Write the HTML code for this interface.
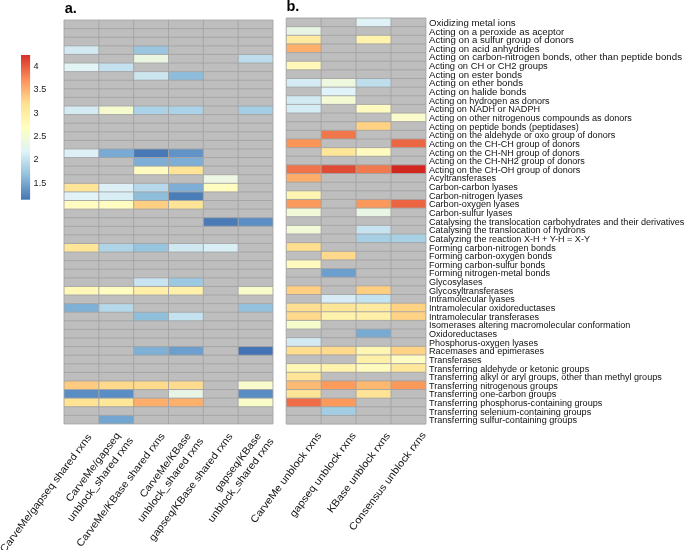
<!DOCTYPE html>
<html><head><meta charset="utf-8"><style>
html,body{margin:0;padding:0;background:#fff;}
svg{display:block;will-change:transform;font-family:"Liberation Sans",sans-serif;}
</style></head><body>
<svg width="685" height="550" viewBox="0 0 685 550">
<defs><linearGradient id="lg" x1="0" y1="1" x2="0" y2="0">
<stop offset="0" stop-color="#4575B4"/><stop offset="0.1667" stop-color="#91BFDB"/><stop offset="0.3333" stop-color="#E0F3F8"/><stop offset="0.5" stop-color="#FFFFBF"/><stop offset="0.6667" stop-color="#FEE090"/><stop offset="0.8333" stop-color="#FC8D59"/><stop offset="1" stop-color="#D73027"/>
</linearGradient></defs>
<rect width="685" height="550" fill="#fff"/>
<text x="64.8" y="12.5" font-weight="bold" font-size="14.5">a.</text>
<text x="286.4" y="11.2" font-weight="bold" font-size="14.5">b.</text>
<rect x="64.0" y="20.05" width="208.98" height="403.87" fill="#BEBEBE"/>
<rect x="64.00" y="45.83" width="34.83" height="8.59" fill="#D3EAF3"/>
<rect x="133.66" y="45.83" width="34.83" height="8.59" fill="#9CC5E0"/>
<rect x="133.66" y="54.42" width="34.83" height="8.59" fill="#EAF6E2"/>
<rect x="238.15" y="54.42" width="34.83" height="8.59" fill="#BDDDEC"/>
<rect x="64.00" y="63.02" width="34.83" height="8.59" fill="#E2F4F6"/>
<rect x="98.83" y="63.02" width="34.83" height="8.59" fill="#C3E1EE"/>
<rect x="133.66" y="71.61" width="34.83" height="8.59" fill="#CCE6F0"/>
<rect x="168.49" y="71.61" width="34.83" height="8.59" fill="#8DBDDA"/>
<rect x="64.00" y="105.98" width="34.83" height="8.59" fill="#D5EBF4"/>
<rect x="98.83" y="105.98" width="34.83" height="8.59" fill="#F5FBCF"/>
<rect x="133.66" y="105.98" width="34.83" height="8.59" fill="#ABD2E6"/>
<rect x="168.49" y="105.98" width="34.83" height="8.59" fill="#ABD2E6"/>
<rect x="238.15" y="105.98" width="34.83" height="8.59" fill="#A5CEE4"/>
<rect x="64.00" y="148.95" width="34.83" height="8.59" fill="#DDF0F6"/>
<rect x="98.83" y="148.95" width="34.83" height="8.59" fill="#78AAD4"/>
<rect x="133.66" y="148.95" width="34.83" height="8.59" fill="#4878B6"/>
<rect x="168.49" y="148.95" width="34.83" height="8.59" fill="#6193C7"/>
<rect x="133.66" y="157.54" width="34.83" height="8.59" fill="#7EAED5"/>
<rect x="168.49" y="157.54" width="34.83" height="8.59" fill="#7EAED5"/>
<rect x="133.66" y="166.13" width="34.83" height="8.59" fill="#FFFBC0"/>
<rect x="168.49" y="166.13" width="34.83" height="8.59" fill="#FEE497"/>
<rect x="203.32" y="174.72" width="34.83" height="8.59" fill="#EDF7E3"/>
<rect x="64.00" y="183.32" width="34.83" height="8.59" fill="#FEE496"/>
<rect x="98.83" y="183.32" width="34.83" height="8.59" fill="#DDF0F6"/>
<rect x="133.66" y="183.32" width="34.83" height="8.59" fill="#B6D8EA"/>
<rect x="168.49" y="183.32" width="34.83" height="8.59" fill="#7EAED5"/>
<rect x="203.32" y="183.32" width="34.83" height="8.59" fill="#FFFDC0"/>
<rect x="64.00" y="191.91" width="34.83" height="8.59" fill="#E2F3F7"/>
<rect x="98.83" y="191.91" width="34.83" height="8.59" fill="#D8EDF4"/>
<rect x="133.66" y="191.91" width="34.83" height="8.59" fill="#8EBEDA"/>
<rect x="168.49" y="191.91" width="34.83" height="8.59" fill="#4B7DB9"/>
<rect x="64.00" y="200.50" width="34.83" height="8.59" fill="#FFFBC1"/>
<rect x="98.83" y="200.50" width="34.83" height="8.59" fill="#FFFCC2"/>
<rect x="133.66" y="200.50" width="34.83" height="8.59" fill="#FECF82"/>
<rect x="168.49" y="200.50" width="34.83" height="8.59" fill="#FEE497"/>
<rect x="203.32" y="217.69" width="34.83" height="8.59" fill="#4A7BB7"/>
<rect x="238.15" y="217.69" width="34.83" height="8.59" fill="#5B8EC4"/>
<rect x="64.00" y="243.47" width="34.83" height="8.59" fill="#FEE699"/>
<rect x="98.83" y="243.47" width="34.83" height="8.59" fill="#AFD4E8"/>
<rect x="133.66" y="243.47" width="34.83" height="8.59" fill="#97C4DE"/>
<rect x="168.49" y="243.47" width="34.83" height="8.59" fill="#D0E8F2"/>
<rect x="203.32" y="243.47" width="34.83" height="8.59" fill="#D9EEF5"/>
<rect x="133.66" y="277.84" width="34.83" height="8.59" fill="#C7E4F0"/>
<rect x="168.49" y="277.84" width="34.83" height="8.59" fill="#9DC8E2"/>
<rect x="64.00" y="286.43" width="34.83" height="8.59" fill="#FFF8B8"/>
<rect x="98.83" y="286.43" width="34.83" height="8.59" fill="#FFFCC1"/>
<rect x="133.66" y="286.43" width="34.83" height="8.59" fill="#FFEFA7"/>
<rect x="168.49" y="286.43" width="34.83" height="8.59" fill="#FFF1AA"/>
<rect x="238.15" y="286.43" width="34.83" height="8.59" fill="#F8FCCB"/>
<rect x="64.00" y="303.62" width="34.83" height="8.59" fill="#7FB0D5"/>
<rect x="98.83" y="303.62" width="34.83" height="8.59" fill="#B5D8EA"/>
<rect x="238.15" y="303.62" width="34.83" height="8.59" fill="#94C2DE"/>
<rect x="133.66" y="312.21" width="34.83" height="8.59" fill="#8FBFDB"/>
<rect x="168.49" y="312.21" width="34.83" height="8.59" fill="#C4E2EF"/>
<rect x="133.66" y="346.58" width="34.83" height="8.59" fill="#7FB0D6"/>
<rect x="168.49" y="346.58" width="34.83" height="8.59" fill="#6C9FCD"/>
<rect x="238.15" y="346.58" width="34.83" height="8.59" fill="#4473B5"/>
<rect x="64.00" y="380.96" width="34.83" height="8.59" fill="#FECB80"/>
<rect x="98.83" y="380.96" width="34.83" height="8.59" fill="#FED98B"/>
<rect x="133.66" y="380.96" width="34.83" height="8.59" fill="#FEDA8D"/>
<rect x="168.49" y="380.96" width="34.83" height="8.59" fill="#FEDC8F"/>
<rect x="238.15" y="380.96" width="34.83" height="8.59" fill="#F8FCCC"/>
<rect x="64.00" y="389.55" width="34.83" height="8.59" fill="#5A8DC4"/>
<rect x="98.83" y="389.55" width="34.83" height="8.59" fill="#5A8DC4"/>
<rect x="168.49" y="389.55" width="34.83" height="8.59" fill="#E8F5E5"/>
<rect x="238.15" y="389.55" width="34.83" height="8.59" fill="#5A8DC4"/>
<rect x="64.00" y="398.14" width="34.83" height="8.59" fill="#FEE393"/>
<rect x="98.83" y="398.14" width="34.83" height="8.59" fill="#FEE798"/>
<rect x="133.66" y="398.14" width="34.83" height="8.59" fill="#FDAE6B"/>
<rect x="168.49" y="398.14" width="34.83" height="8.59" fill="#FDB06C"/>
<rect x="238.15" y="398.14" width="34.83" height="8.59" fill="#F9FCC9"/>
<rect x="98.83" y="415.33" width="34.83" height="8.59" fill="#72A5D0"/>
<path d="M64.00 20.05H272.98M64.00 28.64H272.98M64.00 37.24H272.98M64.00 45.83H272.98M64.00 54.42H272.98M64.00 63.02H272.98M64.00 71.61H272.98M64.00 80.20H272.98M64.00 88.79H272.98M64.00 97.39H272.98M64.00 105.98H272.98M64.00 114.57H272.98M64.00 123.17H272.98M64.00 131.76H272.98M64.00 140.35H272.98M64.00 148.95H272.98M64.00 157.54H272.98M64.00 166.13H272.98M64.00 174.72H272.98M64.00 183.32H272.98M64.00 191.91H272.98M64.00 200.50H272.98M64.00 209.10H272.98M64.00 217.69H272.98M64.00 226.28H272.98M64.00 234.88H272.98M64.00 243.47H272.98M64.00 252.06H272.98M64.00 260.65H272.98M64.00 269.25H272.98M64.00 277.84H272.98M64.00 286.43H272.98M64.00 295.03H272.98M64.00 303.62H272.98M64.00 312.21H272.98M64.00 320.81H272.98M64.00 329.40H272.98M64.00 337.99H272.98M64.00 346.58H272.98M64.00 355.18H272.98M64.00 363.77H272.98M64.00 372.36H272.98M64.00 380.96H272.98M64.00 389.55H272.98M64.00 398.14H272.98M64.00 406.74H272.98M64.00 415.33H272.98M64.00 423.92H272.98M64.00 20.05V423.92M98.83 20.05V423.92M133.66 20.05V423.92M168.49 20.05V423.92M203.32 20.05V423.92M238.15 20.05V423.92M272.98 20.05V423.92" stroke="#A3A3A3" stroke-width="0.9" fill="none"/>
<rect x="286.2" y="18.0" width="139.72" height="406.08" fill="#BEBEBE"/>
<rect x="356.06" y="18.00" width="34.93" height="8.64" fill="#DFF2F6"/>
<rect x="286.20" y="26.64" width="34.93" height="8.64" fill="#E8F5E4"/>
<rect x="286.20" y="35.28" width="34.93" height="8.64" fill="#FEEBA1"/>
<rect x="356.06" y="35.28" width="34.93" height="8.64" fill="#FFF3AE"/>
<rect x="286.20" y="43.92" width="34.93" height="8.64" fill="#FDAF6B"/>
<rect x="286.20" y="61.20" width="34.93" height="8.64" fill="#FFF8B8"/>
<rect x="286.20" y="78.48" width="34.93" height="8.64" fill="#D5EBF4"/>
<rect x="321.13" y="78.48" width="34.93" height="8.64" fill="#EEF8DE"/>
<rect x="356.06" y="78.48" width="34.93" height="8.64" fill="#BEDEEC"/>
<rect x="321.13" y="87.12" width="34.93" height="8.64" fill="#E0F3F8"/>
<rect x="286.20" y="95.76" width="34.93" height="8.64" fill="#D4EAF3"/>
<rect x="321.13" y="95.76" width="34.93" height="8.64" fill="#F3FAD4"/>
<rect x="286.20" y="104.40" width="34.93" height="8.64" fill="#D6ECF4"/>
<rect x="356.06" y="104.40" width="34.93" height="8.64" fill="#FFFBC0"/>
<rect x="390.99" y="113.04" width="34.93" height="8.64" fill="#FAFCCB"/>
<rect x="356.06" y="121.68" width="34.93" height="8.64" fill="#FED282"/>
<rect x="321.13" y="130.32" width="34.93" height="8.64" fill="#F0774A"/>
<rect x="286.20" y="138.96" width="34.93" height="8.64" fill="#FA9558"/>
<rect x="390.99" y="138.96" width="34.93" height="8.64" fill="#EB6643"/>
<rect x="321.13" y="147.60" width="34.93" height="8.64" fill="#FEE699"/>
<rect x="356.06" y="147.60" width="34.93" height="8.64" fill="#FFFBC0"/>
<rect x="286.20" y="164.88" width="34.93" height="8.64" fill="#EF744A"/>
<rect x="321.13" y="164.88" width="34.93" height="8.64" fill="#E04B35"/>
<rect x="356.06" y="164.88" width="34.93" height="8.64" fill="#F07A4D"/>
<rect x="390.99" y="164.88" width="34.93" height="8.64" fill="#D3281F"/>
<rect x="286.20" y="173.52" width="34.93" height="8.64" fill="#FDAD6A"/>
<rect x="286.20" y="190.80" width="34.93" height="8.64" fill="#FFF5B2"/>
<rect x="286.20" y="199.44" width="34.93" height="8.64" fill="#FB9A5C"/>
<rect x="356.06" y="199.44" width="34.93" height="8.64" fill="#FB985B"/>
<rect x="390.99" y="199.44" width="34.93" height="8.64" fill="#EC6542"/>
<rect x="286.20" y="208.08" width="34.93" height="8.64" fill="#F1F9D8"/>
<rect x="356.06" y="208.08" width="34.93" height="8.64" fill="#E8F5E5"/>
<rect x="286.20" y="225.36" width="34.93" height="8.64" fill="#F1F9D9"/>
<rect x="356.06" y="225.36" width="34.93" height="8.64" fill="#C7E3F0"/>
<rect x="356.06" y="234.00" width="34.93" height="8.64" fill="#A6CFE4"/>
<rect x="390.99" y="234.00" width="34.93" height="8.64" fill="#A9D1E5"/>
<rect x="286.20" y="242.64" width="34.93" height="8.64" fill="#FEDD8E"/>
<rect x="321.13" y="251.28" width="34.93" height="8.64" fill="#FED98C"/>
<rect x="286.20" y="259.92" width="34.93" height="8.64" fill="#FFFBBE"/>
<rect x="321.13" y="268.56" width="34.93" height="8.64" fill="#6C9FCD"/>
<rect x="286.20" y="285.84" width="34.93" height="8.64" fill="#FECF82"/>
<rect x="356.06" y="285.84" width="34.93" height="8.64" fill="#FECF81"/>
<rect x="321.13" y="294.48" width="34.93" height="8.64" fill="#D7ECF4"/>
<rect x="356.06" y="294.48" width="34.93" height="8.64" fill="#C4E2EF"/>
<rect x="286.20" y="303.12" width="34.93" height="8.64" fill="#FEDF91"/>
<rect x="321.13" y="303.12" width="34.93" height="8.64" fill="#FEE699"/>
<rect x="356.06" y="303.12" width="34.93" height="8.64" fill="#FEEB9F"/>
<rect x="390.99" y="303.12" width="34.93" height="8.64" fill="#FED183"/>
<rect x="286.20" y="311.76" width="34.93" height="8.64" fill="#FED88B"/>
<rect x="321.13" y="311.76" width="34.93" height="8.64" fill="#FFF2AC"/>
<rect x="356.06" y="311.76" width="34.93" height="8.64" fill="#FFF0A8"/>
<rect x="390.99" y="311.76" width="34.93" height="8.64" fill="#FED385"/>
<rect x="286.20" y="320.40" width="34.93" height="8.64" fill="#F7FCCC"/>
<rect x="356.06" y="329.04" width="34.93" height="8.64" fill="#79AAD2"/>
<rect x="286.20" y="337.68" width="34.93" height="8.64" fill="#D3EAF3"/>
<rect x="286.20" y="346.32" width="34.93" height="8.64" fill="#FEDD8F"/>
<rect x="321.13" y="346.32" width="34.93" height="8.64" fill="#FEDA8D"/>
<rect x="356.06" y="346.32" width="34.93" height="8.64" fill="#FFF6B4"/>
<rect x="390.99" y="346.32" width="34.93" height="8.64" fill="#FED386"/>
<rect x="356.06" y="354.96" width="34.93" height="8.64" fill="#FFF0A8"/>
<rect x="390.99" y="354.96" width="34.93" height="8.64" fill="#FFFCC3"/>
<rect x="286.20" y="363.60" width="34.93" height="8.64" fill="#FFF7B6"/>
<rect x="321.13" y="363.60" width="34.93" height="8.64" fill="#FFF3AE"/>
<rect x="356.06" y="363.60" width="34.93" height="8.64" fill="#FFFBBF"/>
<rect x="390.99" y="363.60" width="34.93" height="8.64" fill="#FEE89B"/>
<rect x="286.20" y="372.24" width="34.93" height="8.64" fill="#FEE497"/>
<rect x="286.20" y="380.88" width="34.93" height="8.64" fill="#FDBA74"/>
<rect x="321.13" y="380.88" width="34.93" height="8.64" fill="#FB9C5C"/>
<rect x="356.06" y="380.88" width="34.93" height="8.64" fill="#FDB870"/>
<rect x="390.99" y="380.88" width="34.93" height="8.64" fill="#FA9A5A"/>
<rect x="286.20" y="389.52" width="34.93" height="8.64" fill="#FEE497"/>
<rect x="356.06" y="389.52" width="34.93" height="8.64" fill="#FEE396"/>
<rect x="286.20" y="398.16" width="34.93" height="8.64" fill="#EF6C46"/>
<rect x="321.13" y="398.16" width="34.93" height="8.64" fill="#FB9A5B"/>
<rect x="321.13" y="406.80" width="34.93" height="8.64" fill="#A3CDE3"/>
<path d="M286.20 18.00H425.92M286.20 26.64H425.92M286.20 35.28H425.92M286.20 43.92H425.92M286.20 52.56H425.92M286.20 61.20H425.92M286.20 69.84H425.92M286.20 78.48H425.92M286.20 87.12H425.92M286.20 95.76H425.92M286.20 104.40H425.92M286.20 113.04H425.92M286.20 121.68H425.92M286.20 130.32H425.92M286.20 138.96H425.92M286.20 147.60H425.92M286.20 156.24H425.92M286.20 164.88H425.92M286.20 173.52H425.92M286.20 182.16H425.92M286.20 190.80H425.92M286.20 199.44H425.92M286.20 208.08H425.92M286.20 216.72H425.92M286.20 225.36H425.92M286.20 234.00H425.92M286.20 242.64H425.92M286.20 251.28H425.92M286.20 259.92H425.92M286.20 268.56H425.92M286.20 277.20H425.92M286.20 285.84H425.92M286.20 294.48H425.92M286.20 303.12H425.92M286.20 311.76H425.92M286.20 320.40H425.92M286.20 329.04H425.92M286.20 337.68H425.92M286.20 346.32H425.92M286.20 354.96H425.92M286.20 363.60H425.92M286.20 372.24H425.92M286.20 380.88H425.92M286.20 389.52H425.92M286.20 398.16H425.92M286.20 406.80H425.92M286.20 415.44H425.92M286.20 424.08H425.92M286.20 18.00V424.08M321.13 18.00V424.08M356.06 18.00V424.08M390.99 18.00V424.08M425.92 18.00V424.08" stroke="#A3A3A3" stroke-width="0.9" fill="none"/>
<rect x="21" y="55" width="9.1" height="144.7" fill="url(#lg)"/>
<g font-size="9.1" fill="#1a1a1a">
<text x="33.6" y="69.10">4</text>
<text x="33.6" y="92.40">3.5</text>
<text x="33.6" y="115.70">3</text>
<text x="33.6" y="138.90">2.5</text>
<text x="33.6" y="162.20">2</text>
<text x="33.6" y="185.50">1.5</text>
</g>
<g font-size="9.08" fill="#111">
<text x="429" y="25.92" textLength="86.6" lengthAdjust="spacingAndGlyphs">Oxidizing metal ions</text>
<text x="429" y="34.56" textLength="135.2" lengthAdjust="spacingAndGlyphs">Acting on a peroxide as aceptor</text>
<text x="429" y="43.20" textLength="144.9" lengthAdjust="spacingAndGlyphs">Acting on a sulfur group of donors</text>
<text x="429" y="51.84" textLength="110.5" lengthAdjust="spacingAndGlyphs">Acting on acid anhydrides</text>
<text x="429" y="60.48" textLength="253.0" lengthAdjust="spacingAndGlyphs">Acting on carbon-nitrogen bonds, other than peptide bonds</text>
<text x="429" y="69.12" textLength="118.8" lengthAdjust="spacingAndGlyphs">Acting on CH or CH2 groups</text>
<text x="429" y="77.76" textLength="93.0" lengthAdjust="spacingAndGlyphs">Acting on ester bonds</text>
<text x="429" y="86.40" textLength="94.0" lengthAdjust="spacingAndGlyphs">Acting on ether bonds</text>
<text x="429" y="95.04" textLength="97.3" lengthAdjust="spacingAndGlyphs">Acting on halide bonds</text>
<text x="429" y="103.68" textLength="120.6" lengthAdjust="spacingAndGlyphs">Acting on hydrogen as donors</text>
<text x="429" y="112.32" textLength="111.0" lengthAdjust="spacingAndGlyphs">Acting on NADH or NADPH</text>
<text x="429" y="120.96" textLength="202.9" lengthAdjust="spacingAndGlyphs">Acting on other nitrogenous compounds as donors</text>
<text x="429" y="129.60" textLength="149.9" lengthAdjust="spacingAndGlyphs">Acting on peptide bonds (peptidases)</text>
<text x="429" y="138.24" textLength="186.3" lengthAdjust="spacingAndGlyphs">Acting on the aldehyde or oxo group of donors</text>
<text x="429" y="146.88" textLength="150.9" lengthAdjust="spacingAndGlyphs">Acting on the CH-CH group of donors</text>
<text x="429" y="155.52" textLength="150.9" lengthAdjust="spacingAndGlyphs">Acting on the CH-NH group of donors</text>
<text x="429" y="164.16" textLength="155.9" lengthAdjust="spacingAndGlyphs">Acting on the CH-NH2 group of donors</text>
<text x="429" y="172.80" textLength="151.4" lengthAdjust="spacingAndGlyphs">Acting on the CH-OH group of donors</text>
<text x="429" y="181.44" textLength="67.1" lengthAdjust="spacingAndGlyphs">Acyltransferases</text>
<text x="429" y="190.08" textLength="88.8" lengthAdjust="spacingAndGlyphs">Carbon-carbon lyases</text>
<text x="429" y="198.72" textLength="93.9" lengthAdjust="spacingAndGlyphs">Carbon-nitrogen lyases</text>
<text x="429" y="207.36" textLength="90.3" lengthAdjust="spacingAndGlyphs">Carbon-oxygen lyases</text>
<text x="429" y="216.00" textLength="83.3" lengthAdjust="spacingAndGlyphs">Carbon-sulfur lyases</text>
<text x="429" y="224.64" textLength="255.4" lengthAdjust="spacingAndGlyphs">Catalysing the translocation carbohydrates and their derivatives</text>
<text x="429" y="233.28" textLength="156.5" lengthAdjust="spacingAndGlyphs">Catalysing the translocation of hydrons</text>
<text x="429" y="241.92" textLength="161.0" lengthAdjust="spacingAndGlyphs">Catalyzing the reaction X-H + Y-H = X-Y</text>
<text x="429" y="250.56" textLength="126.7" lengthAdjust="spacingAndGlyphs">Forming carbon-nitrogen bonds</text>
<text x="429" y="259.20" textLength="123.1" lengthAdjust="spacingAndGlyphs">Forming carbon-oxygen bonds</text>
<text x="429" y="267.84" textLength="116.1" lengthAdjust="spacingAndGlyphs">Forming carbon-sulfur bonds</text>
<text x="429" y="276.48" textLength="121.1" lengthAdjust="spacingAndGlyphs">Forming nitrogen-metal bonds</text>
<text x="429" y="285.12" textLength="53.5" lengthAdjust="spacingAndGlyphs">Glycosylases</text>
<text x="429" y="293.76" textLength="84.3" lengthAdjust="spacingAndGlyphs">Glycosyltransferases</text>
<text x="429" y="302.40" textLength="85.8" lengthAdjust="spacingAndGlyphs">Intramolecular lyases</text>
<text x="429" y="311.04" textLength="126.2" lengthAdjust="spacingAndGlyphs">Intramolecular oxidoreductases</text>
<text x="429" y="319.68" textLength="110.0" lengthAdjust="spacingAndGlyphs">Intramolecular transferases</text>
<text x="429" y="328.32" textLength="201.3" lengthAdjust="spacingAndGlyphs">Isomerases altering macromolecular conformation</text>
<text x="429" y="336.96" textLength="68.1" lengthAdjust="spacingAndGlyphs">Oxidoreductases</text>
<text x="429" y="345.60" textLength="109.0" lengthAdjust="spacingAndGlyphs">Phosphorus-oxygen lyases</text>
<text x="429" y="354.24" textLength="115.1" lengthAdjust="spacingAndGlyphs">Racemases and epimerases</text>
<text x="429" y="362.88" textLength="52.6" lengthAdjust="spacingAndGlyphs">Transferases</text>
<text x="429" y="371.52" textLength="160.2" lengthAdjust="spacingAndGlyphs">Transferring aldehyde or ketonic groups</text>
<text x="429" y="380.16" textLength="232.8" lengthAdjust="spacingAndGlyphs">Transferring alkyl or aryl groups, other than methyl groups</text>
<text x="429" y="388.80" textLength="128.9" lengthAdjust="spacingAndGlyphs">Transferring nitrogenous groups</text>
<text x="429" y="397.44" textLength="127.3" lengthAdjust="spacingAndGlyphs">Transferring one-carbon groups</text>
<text x="429" y="406.08" textLength="173.3" lengthAdjust="spacingAndGlyphs">Transferring phosphorus-containing groups</text>
<text x="429" y="414.72" textLength="162.2" lengthAdjust="spacingAndGlyphs">Transferring selenium-containing groups</text>
<text x="429" y="423.36" textLength="148.0" lengthAdjust="spacingAndGlyphs">Transferring sulfur-containing groups</text>
</g>
<g font-size="10.2" fill="#111">
<text transform="translate(92.10,437.20) rotate(-53)" text-anchor="end" textLength="145.0" lengthAdjust="spacingAndGlyphs">CarveMe/gapseq shared rxns</text>
<text transform="translate(120.80,435.70) rotate(-53)" text-anchor="end" textLength="83.6" lengthAdjust="spacingAndGlyphs">CarveMe/gapseq</text>
<text transform="translate(133.60,440.60) rotate(-53)" text-anchor="end" textLength="102.2" lengthAdjust="spacingAndGlyphs">unblock_shared rxns</text>
<text transform="translate(165.20,436.10) rotate(-53)" text-anchor="end" textLength="139.4" lengthAdjust="spacingAndGlyphs">CarveMe/KBase shared rxns</text>
<text transform="translate(191.40,436.00) rotate(-53)" text-anchor="end" textLength="78.0" lengthAdjust="spacingAndGlyphs">CarveMe/KBase</text>
<text transform="translate(203.80,441.20) rotate(-53)" text-anchor="end" textLength="102.2" lengthAdjust="spacingAndGlyphs">unblock_shared rxns</text>
<text transform="translate(233.10,436.40) rotate(-53)" text-anchor="end" textLength="131.9" lengthAdjust="spacingAndGlyphs">gapseq/KBase shared rxns</text>
<text transform="translate(261.60,436.00) rotate(-53)" text-anchor="end" textLength="70.5" lengthAdjust="spacingAndGlyphs">gapseq/KBase</text>
<text transform="translate(274.10,441.30) rotate(-53)" text-anchor="end" textLength="102.2" lengthAdjust="spacingAndGlyphs">unblock_shared rxns</text>
<text transform="translate(321.80,435.60) rotate(-53)" text-anchor="end" textLength="110.4" lengthAdjust="spacingAndGlyphs">CarveMe unblock rxns</text>
<text transform="translate(356.30,435.60) rotate(-53)" text-anchor="end" textLength="102.9" lengthAdjust="spacingAndGlyphs">gapseq unblock rxns</text>
<text transform="translate(390.50,435.80) rotate(-53)" text-anchor="end" textLength="97.3" lengthAdjust="spacingAndGlyphs">KBase unblock rxns</text>
<text transform="translate(426.20,435.20) rotate(-53)" text-anchor="end" textLength="120.2" lengthAdjust="spacingAndGlyphs">Consensus unblock rxns</text>
</g>
</svg>
</body></html>
